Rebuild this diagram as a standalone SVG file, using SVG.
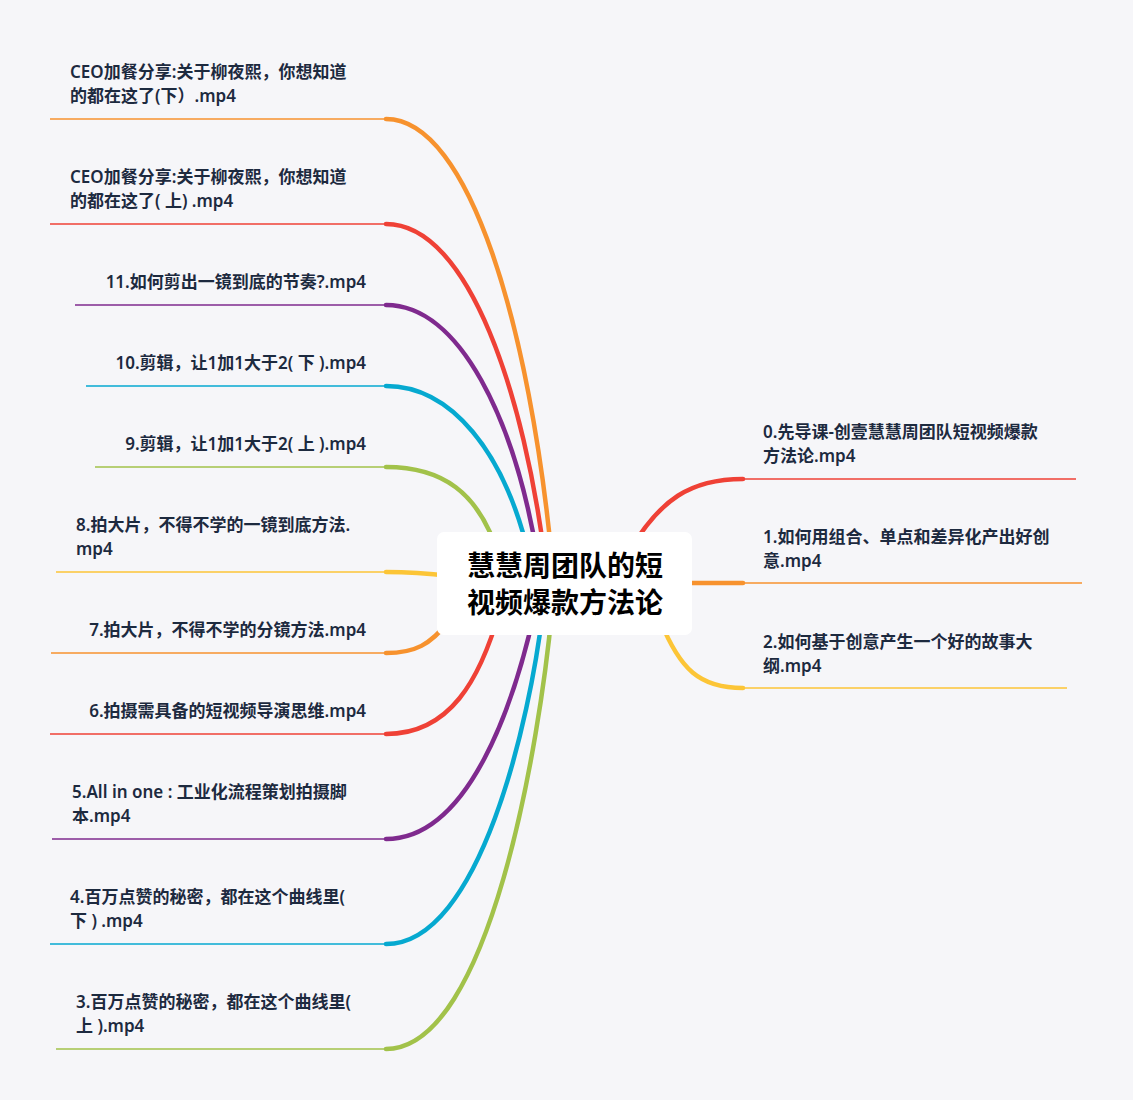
<svg xmlns="http://www.w3.org/2000/svg" width="1133" height="1100" viewBox="0 0 1133 1100">
<style>
.t{font-family:"Noto Sans","Noto Sans CJK SC",sans-serif;font-size:17px;font-weight:600;fill:#1d2a3f}
.u{stroke-width:1.6;fill:none}
.c{stroke-width:4.5;fill:none;stroke-linecap:round}
.o{stroke:#f7922e}.r{stroke:#ef4136}.p{stroke:#7f2a8e}.b{stroke:#06a9d0}.g{stroke:#a2c24a}.y{stroke:#fcc537}
</style>
<rect width="1133" height="1100" fill="#f6f6f9"/>
<g id="connectors">
<path class="c o" d="M386,119 C470,119 530,330 552,560"/>
<path class="c r" d="M386,224 C470,224 525,400 545,560"/>
<path class="c p" d="M386,305 C460,305 515,420 538,560"/>
<path class="c b" d="M386,386 C450,386 505,450 530,560"/>
<path class="c g" d="M386,467 C440,467 480,490 500,560"/>
<path class="c y" d="M386,572 C410,572 425,573 450,576"/>
<path class="c o" d="M386,653 C415,653 430,645 450,620"/>
<path class="c r" d="M386,734 C450,734 480,680 500,610"/>
<path class="c p" d="M386,839 C470,839 515,700 535,610"/>
<path class="c b" d="M386,944 C480,944 530,720 543,610"/>
<path class="c g" d="M386,1049 C490,1049 540,740 552,610"/>
<path class="c r" d="M743,479 C690,479 660,500 630,550"/>
<path class="c o" d="M743,583 C720,583 700,583 680,583"/>
<path class="c y" d="M743,688 C700,688 680,670 660,620"/>
<path class="u o" d="M50,119H386"/><path class="u r" d="M50,224H386"/>
<path class="u p" d="M75,305H386"/><path class="u b" d="M86,386H386"/>
<path class="u g" d="M95,467H386"/><path class="u y" d="M56,572H386"/>
<path class="u o" d="M51,653H386"/><path class="u r" d="M50,734H386"/>
<path class="u p" d="M52,839H386"/><path class="u b" d="M50,944H386"/>
<path class="u g" d="M56,1049H386"/>
<path class="u r" d="M743,479H1076"/><path class="u o" d="M743,583H1082"/>
<path class="u y" d="M743,688H1067"/>
</g>
<g id="center"><rect x="437" y="532" width="255" height="103" rx="7" fill="#fff"/>
<text x="565" y="576" text-anchor="middle" style="font-family:'Noto Sans CJK SC',sans-serif;font-size:28px;font-weight:700;fill:#000">慧慧周团队的短</text>
<text x="565" y="613" text-anchor="middle" style="font-family:'Noto Sans CJK SC',sans-serif;font-size:28px;font-weight:700;fill:#000">视频爆款方法论</text></g>
<g id="n1"><text class="t" x="70" y="78">CEO加餐分享:关于柳夜熙，你想知道</text><text class="t" x="70" y="102">的都在这了(下）.mp4</text></g>
<g id="n2"><text class="t" x="70" y="183">CEO加餐分享:关于柳夜熙，你想知道</text><text class="t" x="70" y="207">的都在这了( 上) .mp4</text></g>
<g id="n3"><text class="t" x="366" y="288" text-anchor="end">11.如何剪出一镜到底的节奏?.mp4</text></g>
<g id="n4"><text class="t" x="366" y="369" text-anchor="end">10.剪辑，让1加1大于2( 下 ).mp4</text></g>
<g id="n5"><text class="t" x="366" y="450" text-anchor="end">9.剪辑，让1加1大于2( 上 ).mp4</text></g>
<g id="n6"><text class="t" x="76" y="531">8.拍大片，不得不学的一镜到底方法.</text><text class="t" x="76" y="555">mp4</text></g>
<g id="n7"><text class="t" x="366" y="636" text-anchor="end">7.拍大片，不得不学的分镜方法.mp4</text></g>
<g id="n8"><text class="t" x="366" y="717" text-anchor="end">6.拍摄需具备的短视频导演思维.mp4</text></g>
<g id="n9"><text class="t" x="72" y="798">5.All in one : 工业化流程策划拍摄脚</text><text class="t" x="72" y="822">本.mp4</text></g>
<g id="n10"><text class="t" x="70" y="903">4.百万点赞的秘密，都在这个曲线里(</text><text class="t" x="70" y="927">下 ) .mp4</text></g>
<g id="n11"><text class="t" x="76" y="1008">3.百万点赞的秘密，都在这个曲线里(</text><text class="t" x="76" y="1032">上 ).mp4</text></g>
<g id="r0"><text class="t" x="763" y="438">0.先导课-创壹慧慧周团队短视频爆款</text><text class="t" x="763" y="462">方法论.mp4</text></g>
<g id="r1"><text class="t" x="763" y="543">1.如何用组合、单点和差异化产出好创</text><text class="t" x="763" y="567">意.mp4</text></g>
<g id="r2"><text class="t" x="763" y="648">2.如何基于创意产生一个好的故事大</text><text class="t" x="763" y="672">纲.mp4</text></g>
</svg>
